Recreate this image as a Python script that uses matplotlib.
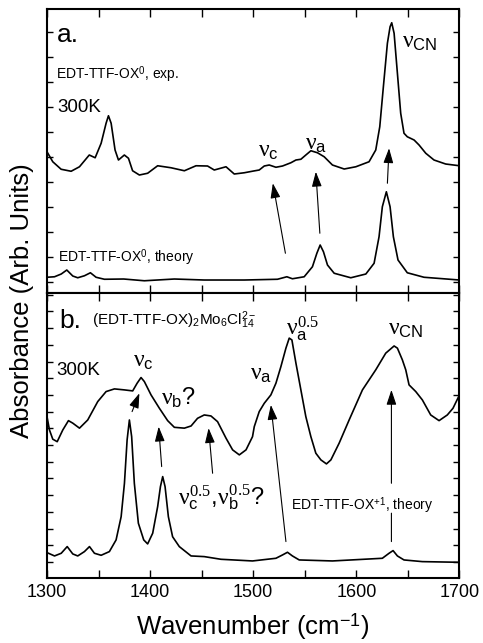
import numpy as np
import matplotlib
matplotlib.use('Agg')
import matplotlib.pyplot as plt
from matplotlib.ticker import MultipleLocator

plt.rcParams['font.family'] = ['Liberation Sans', 'DejaVu Sans']
plt.rcParams['mathtext.fontset'] = 'custom'
plt.rcParams['mathtext.rm'] = 'Liberation Sans'
plt.rcParams['mathtext.it'] = 'Liberation Serif'
plt.rcParams['mathtext.sf'] = 'Liberation Serif'

# panel a: experimental spectrum (EDT-TTF-OX^0, 300K)
wn_a_exp = [1300, 1305.6, 1313.7, 1323.4, 1331.5, 1341, 1346.7, 1352.5, 1357.3, 1359.6,
            1362.2, 1366, 1369.3, 1375, 1379, 1383, 1389.6, 1397.6, 1407.3, 1420.3,
            1433.2, 1444.5, 1455.7, 1462.2, 1473.6, 1481.6, 1491.3, 1500.3, 1505.8, 1510.7,
            1515.5, 1522, 1528.4, 1536.5, 1541.4, 1546.2, 1551, 1555.9, 1562.3, 1568.8,
            1576.8, 1588.2, 1599.5, 1612.3, 1618.8, 1622.7, 1626.2, 1630.1, 1632.7, 1634.3,
            1636.6, 1639.8, 1643, 1646.2, 1649.4, 1656, 1660.8, 1667.3, 1675.3, 1686.6, 1700]
abs_a_exp = [5.21, 4.81, 4.51, 4.43, 4.61, 5.08, 4.97, 5.55, 6.35, 6.65,
             6.35, 5.28, 4.88, 5.08, 4.95, 4.45, 4.28, 4.35, 4.65, 4.57,
             4.45, 4.65, 4.64, 4.48, 4.61, 4.32, 4.37, 4.44, 4.48, 4.64,
             4.68, 4.59, 4.64, 4.77, 4.88, 4.91, 5.08, 5.25, 5.17, 5.01,
             4.68, 4.52, 4.61, 4.81, 5.28, 6.21, 7.81, 9.55, 10.21, 10.37,
             9.95, 8.35, 6.75, 5.95, 5.81, 5.68, 5.48, 5.15, 4.88, 4.72, 4.65]

# panel a: theory spectrum (EDT-TTF-OX^0)
wn_a_th = [1300, 1307.3, 1313.8, 1319.2, 1325, 1329.8, 1336.3, 1342.1, 1347.6, 1355.7,
           1374.4, 1394.4, 1423.5, 1452.5, 1491.3, 1523.5, 1532.6, 1538, 1549.4, 1557.4,
           1561.7, 1564.9, 1568.1, 1572, 1578.5, 1594.6, 1609.2, 1617.2, 1622, 1625.2,
           1629.1, 1632.7, 1635.9, 1640.4, 1649.4, 1665.6, 1700]
abs_a_th = [0.19, 0.21, 0.32, 0.48, 0.24, 0.17, 0.25, 0.37, 0.19, 0.11,
            0.12, 0.05, 0.12, 0.08, 0.08, 0.11, 0.21, 0.13, 0.21, 0.61,
            1.15, 1.48, 1.21, 0.68, 0.35, 0.17, 0.32, 0.75, 1.81, 3.01,
            3.61, 3.01, 1.81, 0.88, 0.37, 0.19, 0.08]

# panel b: experimental spectrum ((EDT-TTF-OX)2Mo6Cl14, 300K)
wn_b_exp = [1300, 1302.4, 1305.6, 1309.9, 1315.3, 1320.8, 1325, 1331.5, 1339.5, 1349.2,
            1357.3, 1365.4, 1375.1, 1383.1, 1387.4, 1391.2, 1394.4, 1400.9, 1409, 1417,
            1423.5, 1433.2, 1439.7, 1446, 1452.5, 1459, 1465.4, 1473.6, 1480, 1486.5,
            1493, 1499.3, 1501, 1505.8, 1510.7, 1517.1, 1522, 1526.8, 1531.7, 1534.9,
            1537.5, 1541.4, 1546.2, 1551, 1555.9, 1560.7, 1565.6, 1571, 1575.3, 1583.3,
            1593, 1605.9, 1618.8, 1628.5, 1636.6, 1639.8, 1644.6, 1647.9, 1651.1, 1657.6,
            1664, 1672.1, 1680.2, 1688.2, 1693.7, 1700]
abs_b_exp = [8.70, 7.90, 7.35, 7.20, 7.90, 8.46, 8.31, 8.01, 8.50, 9.60,
             10.20, 10.36, 10.30, 10.24, 10.70, 11.04, 10.80, 10.00, 9.20, 8.46,
             8.06, 8.01, 8.14, 8.60, 8.80, 8.74, 8.40, 7.41, 6.71, 6.41,
             6.71, 7.50, 8.10, 9.00, 9.50, 10.00, 10.70, 11.69, 12.80, 13.40,
             13.29, 11.90, 10.30, 8.70, 7.50, 6.51, 6.11, 5.87, 6.11, 7.11,
             8.50, 10.30, 11.50, 12.50, 12.93, 12.80, 12.10, 11.50, 10.60, 10.20,
             9.70, 8.80, 8.46, 8.80, 9.20, 10.00]

# panel b: theory spectrum (EDT-TTF-OX^+1)
wn_b_th = [1300, 1307.3, 1313.8, 1319.6, 1325, 1329.8, 1336.3, 1341.2, 1346, 1352.5,
           1360.5, 1367, 1371.9, 1375.1, 1377.7, 1379.9, 1382.1, 1384.7, 1388.6, 1393.8,
           1397.6, 1402.5, 1407.3, 1410, 1412.2, 1414.5, 1417.7, 1421.8, 1428.3, 1439.7,
           1452.5, 1468.7, 1499.3, 1522, 1528.4, 1533.2, 1538, 1544.6, 1576.8, 1625.2,
           1631.7, 1635.6, 1639.8, 1646.2, 1664, 1700]
abs_b_th = [0.56, 0.36, 0.52, 0.92, 0.48, 0.36, 0.62, 0.92, 0.52, 0.40,
            0.62, 1.32, 2.71, 4.71, 7.31, 8.50, 7.50, 4.71, 2.32, 1.32,
            1.08, 1.72, 3.31, 4.51, 5.11, 4.51, 2.71, 1.51, 0.92, 0.36,
            0.32, 0.16, 0.06, 0.22, 0.42, 0.58, 0.36, 0.12, 0.06, 0.22,
            0.52, 0.68, 0.36, 0.12, 0.02, -0.02]

# arrows: (tail wn, tail y, head wn, head y)
arrows_a = [(1531.2, 1.15, 1519.0, 3.95),
            (1564.6, 1.95, 1560.7, 4.41),
            (1630.1, 3.95, 1631.7, 5.35)]
arrows_b = [(1382.5, 9.0, 1389.6, 10.1),
            (1411.2, 5.71, 1408.3, 8.1),
            (1460.6, 5.31, 1456.7, 8.01),
            (1531.7, 1.22, 1517.1, 9.4),
            (1634.0, 4.71, 1634.0, 10.3)]

fig = plt.figure(figsize=(4.83, 6.43), dpi=100)
ax_a = fig.add_axes([0.0973, 0.5443, 0.854, 0.4417])
ax_b = fig.add_axes([0.0973, 0.1011, 0.854, 0.4432])

for ax in (ax_a, ax_b):
    ax.set_xlim(1300, 1700)
    ax.xaxis.set_major_locator(MultipleLocator(100))
    ax.xaxis.set_minor_locator(MultipleLocator(50))
    ax.yaxis.set_major_locator(MultipleLocator(1))
    ax.tick_params(which='both', direction='in', top=True, right=True, width=1.0)
    ax.tick_params(axis='x', which='both', length=6)
    ax.tick_params(axis='y', which='both', length=4)
    ax.tick_params(axis='y', labelleft=False)
    for s in ax.spines.values():
        s.set_linewidth(1.5)

ax_a.set_ylim(-0.44, 10.92)
ax_b.set_ylim(-0.96, 16.1)
ax_a.tick_params(axis='x', labelbottom=False)
ax_b.tick_params(axis='x', labelsize=13, pad=4)

ax_a.plot(wn_a_exp, abs_a_exp, color='k', lw=1.2)
ax_a.plot(wn_a_th, abs_a_th, color='k', lw=1.2)
ax_b.plot(wn_b_exp, abs_b_exp, color='k', lw=1.2)
ax_b.plot(wn_b_th, abs_b_th, color='k', lw=1.2)

arrow_style = dict(arrowstyle='-|>,head_length=0.6,head_width=0.2', mutation_scale=15,
                   color='k', lw=0.8, shrinkA=0, shrinkB=0)
for tx, ty, hx, hy in arrows_a:
    ax_a.annotate('', xy=(hx, hy), xytext=(tx, ty), arrowprops=arrow_style)
for tx, ty, hx, hy in arrows_b:
    ax_b.annotate('', xy=(hx, hy), xytext=(tx, ty), arrowprops=arrow_style)
# short stub under the theory label
ax_b.annotate('', xy=(1634.0, 2.92), xytext=(1634.0, 1.22),
              arrowprops=dict(arrowstyle='-', color='k', lw=0.8, shrinkA=0, shrinkB=0))

nu_fs = 17
# panel a texts
ax_a.text(1310, 9.6, 'a.', fontsize=19)
ax_a.text(1309, 8.12, r'EDT-TTF-OX$^0$, exp.', fontsize=10)
ax_a.text(1310, 6.8, '300K', fontsize=13.5)
ax_a.text(1505, 5.0, r'$\nu_{\mathrm{c}}$', fontsize=nu_fs)
ax_a.text(1550, 5.28, r'$\nu_{\mathrm{a}}$', fontsize=nu_fs)
ax_a.text(1644, 9.36, r'$\nu_{\mathrm{CN}}$', fontsize=nu_fs)
ax_a.text(1311, 0.8, r'EDT-TTF-OX$^0$, theory', fontsize=10)

# panel b texts
ax_b.text(1312, 14.0, 'b.', fontsize=19)
ax_b.text(1343.5, 14.2, r'(EDT-TTF-OX)$_2$Mo$_6$Cl$_{14}^{2-}$', fontsize=11)
ax_b.text(1309, 11.2, '300K', fontsize=13.5)
ax_b.text(1383.5, 11.7, r'$\nu_{\mathrm{c}}$', fontsize=nu_fs)
ax_b.text(1411, 9.4, r'$\nu_{\mathrm{b}}$?', fontsize=nu_fs)
ax_b.text(1497, 10.9, r'$\nu_{\mathrm{a}}$', fontsize=nu_fs)
ax_b.text(1532, 13.6, r'$\nu_{\mathrm{a}}^{\mathsf{0.5}}$', fontsize=nu_fs)
ax_b.text(1631, 13.6, r'$\nu_{\mathrm{CN}}$', fontsize=nu_fs)
ax_b.text(1427, 3.4, r'$\nu_{\mathrm{c}}^{\mathsf{0.5}}$,$\nu_{\mathrm{b}}^{\mathsf{0.5}}$?', fontsize=nu_fs)
ax_b.text(1537, 3.1, r'EDT-TTF-OX$^{+1}$, theory', fontsize=10)

ax_b.set_xlabel(r'Wavenumber (cm$^{-1}$)', fontsize=18.5, labelpad=8)
fig.text(0.045, 0.533, 'Absorbance (Arb. Units)', rotation=90, fontsize=18.5,
         ha='center', va='center')

fig.savefig('out.png', dpi=100)
